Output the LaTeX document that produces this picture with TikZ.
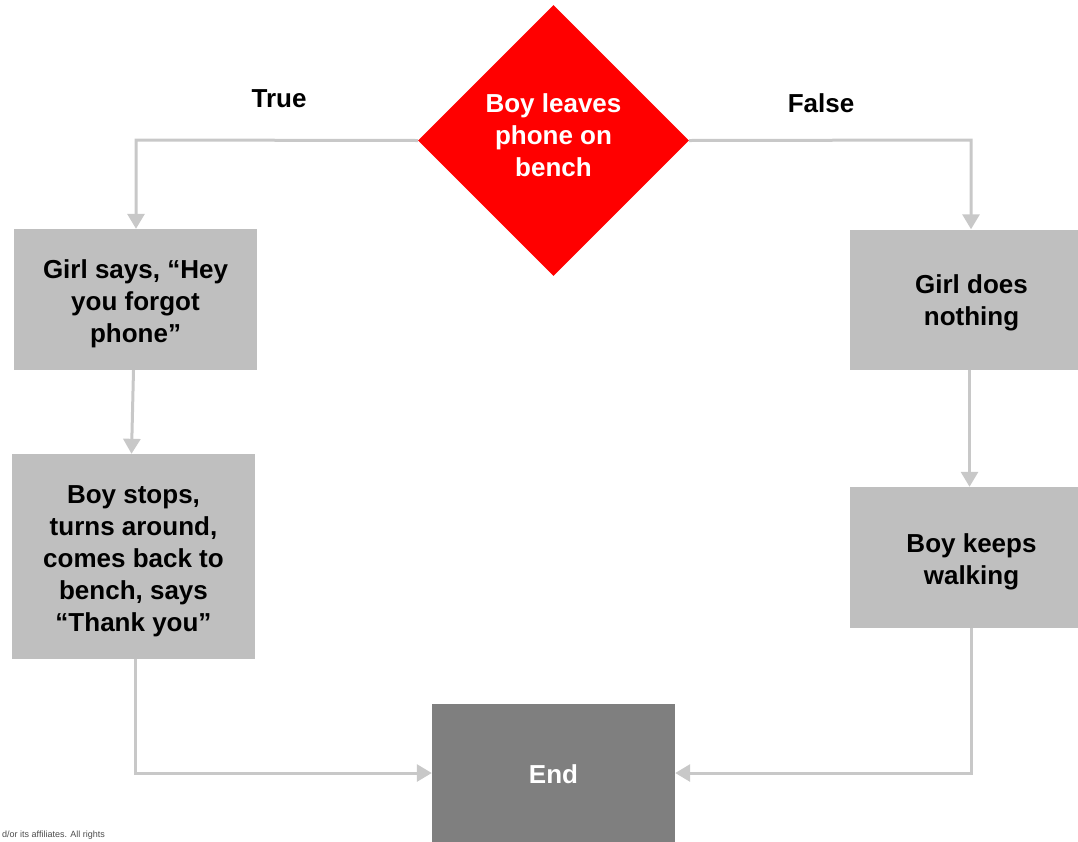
\documentclass[tikz,border=0pt]{standalone}
\usepackage{fontspec}
\setmainfont{Liberation Sans}
\usetikzlibrary{shapes.geometric,arrows.meta}
\definecolor{linegray}{HTML}{C8C8C8}
\definecolor{boxgray}{HTML}{BFBFBF}
\definecolor{endgray}{HTML}{7F7F7F}
\definecolor{decred}{HTML}{FF0000}
\tikzset{
  stepbox/.style={rectangle, fill=boxgray, minimum width=243pt, minimum height=141pt, inner sep=0pt, text width=210pt, align=center, font=\fontsize{26}{32}\selectfont\bfseries, text=black},
  endbox/.style={rectangle, fill=endgray, minimum width=243pt, minimum height=141pt, inner sep=0pt, align=center, font=\fontsize{26}{32}\selectfont\bfseries, text=white},
  decision/.style={diamond, aspect=1, fill=decred, minimum width=271pt, minimum height=271pt, inner sep=0pt, text width=160pt, align=center, font=\fontsize{26}{32}\selectfont\bfseries, text=white},
  lbl/.style={font=\fontsize{26}{32}\selectfont\bfseries, text=black, inner sep=0pt},
  conn/.style={draw=linegray, line width=3pt, -{Triangle[width=17pt,length=15pt]}},
  txt/.style={fill=none, draw=none, inner sep=0pt, align=center, font=\fontsize{26}{32}\selectfont\bfseries},
}
\begin{document}
\begin{tikzpicture}[x=1pt,y=-1pt]
\useasboundingbox (0,0) rectangle (1078,841);
\clip (0,0) rectangle (1078,841);
\node[decision] (dec) at (553.5,140.5) {};
\node[txt, text=white] (dect) at (553.5,135) {Boy leaves\\phone on\\bench};
\node[lbl] (true) at (279,99) {True};
\node[lbl] (false) at (821,103) {False};
\node[stepbox] (b1) at (135.5,299.5) {};
\node[txt] (b1t) at (135.5,304) {Girl says, “Hey\\you forgot\\phone”};
\node[stepbox, minimum height=205pt] (b2) at (133.5,556.5) {};
\node[txt] (b2t) at (133.5,561.5) {Boy stops,\\turns around,\\comes back to\\bench, says\\“Thank you”};
\node[stepbox, minimum height=140pt] (b3) at (971.5,299.5) {};
\node[txt] (b3t) at (971.5,302.5) {Girl does\\nothing};
\node[stepbox] (b4) at (971.5,557.5) {};
\node[txt] (b4t) at (971.5,561.5) {Boy keeps\\walking};
\node[endbox] (end) at (553.5,774.5) {End};
\coordinate (c1) at (136,140);
\coordinate (c2) at (971,140);
\coordinate (c3) at (135,773);
\coordinate (c4) at (971,773);
\draw[conn] (dec.west) -- (c1) -- (b1.north -| c1);
\draw[conn] (dec.east) -- (c2) -- (b3.north -| c2);
\draw[conn] ([xshift=-2pt]b1.south) -- ([xshift=-2pt]b2.north);
\draw[conn] ([xshift=-2pt]b3.south) -- ([xshift=-2pt]b4.north);
\draw[conn] (b2.south -| c3) -- (c3) -- (end.west |- c3);
\draw[conn] (b4.south -| c4) -- (c4) -- (end.east |- c4);
\node[anchor=south west, font=\fontsize{9}{11}\selectfont, text=black!70, inner sep=0pt] (foot) at (2,840) {d/or its affiliates. All rights};
\end{tikzpicture}
\end{document}
